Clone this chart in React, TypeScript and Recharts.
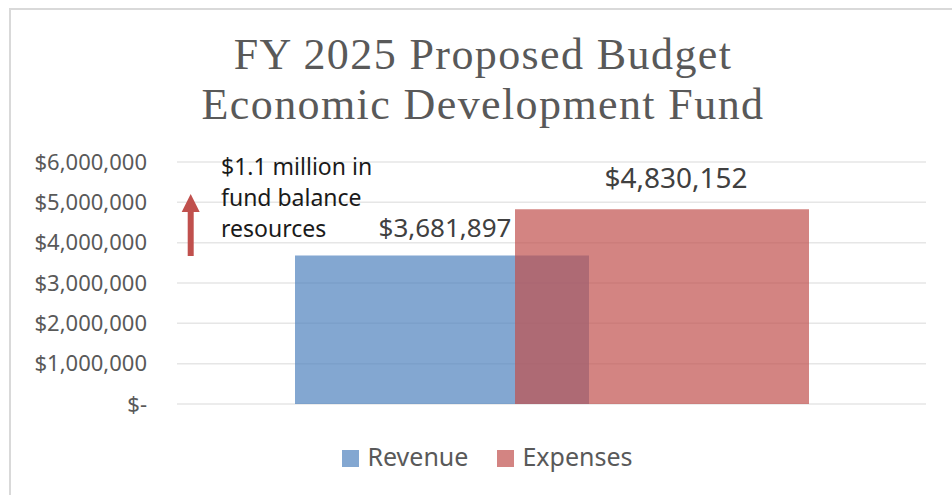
import React from "react";
import { BarChart, Bar, XAxis, YAxis, CartesianGrid, Legend, LabelList } from "recharts";

const categories = ["FY 2025"];
const revenueValues = [3681897];
const expenseValues = [4830152];
const yTicks = [0, 1000000, 2000000, 3000000, 4000000, 5000000, 6000000];
const titleLines = ["FY 2025 Proposed Budget", "Economic Development Fund"];
const noteLines = ["$1.1 million in", "fund balance", "resources"];
const seriesNames = ["Revenue", "Expenses"];

const data = categories.map((c, i) => ({
  name: c,
  Revenue: revenueValues[i],
  Expenses: expenseValues[i],
}));

const BLUE = "#4F81BD";
const RED = "#C0504D";
const SANS = "'Noto Sans', sans-serif";

const fmtMoney = (v: number) => (v === 0 ? "$-" : "$" + v.toLocaleString("en-US"));

const makeLabel = (dx: number, offset: number, size: number) => (props: any) => {
  const { x, y, width, value } = props;
  return (
    <text
      x={Number(x) + Number(width) / 2 + dx}
      y={Number(y) - offset}
      textAnchor="middle"
      fontFamily={SANS}
      fontSize={size}
      fill="#404040"
    >
      {fmtMoney(Number(value))}
    </text>
  );
};

const renderLegend = () => (
  <div
    style={{
      display: "flex",
      justifyContent: "center",
      paddingLeft: 23,
      fontFamily: SANS,
      fontSize: 25,
      lineHeight: "25px",
      color: "#595959",
    }}
  >
    {seriesNames.map((n, i) => (
      <div key={n} style={{ display: "flex", alignItems: "flex-start", marginLeft: i === 0 ? 0 : 29 }}>
        <div
          style={{
            width: 17,
            height: 17,
            marginTop: 6,
            marginRight: 8,
            background: i === 0 ? BLUE : RED,
            opacity: 0.7,
          }}
        />
        <span>{n}</span>
      </div>
    ))}
  </div>
);

export default function App() {
  return (
    <div style={{ position: "absolute", left: 0, top: 0, width: 952, height: 495, overflow: "hidden", background: "#fff" }}>
      <div
        style={{
          position: "absolute",
          left: 9,
          top: 8,
          width: 1000,
          height: 600,
          border: "2px solid #D9D9D9",
          boxSizing: "border-box",
        }}
      />
      <BarChart
        width={952}
        height={495}
        data={data}
        margin={{ top: 162, right: 26, bottom: 91, left: 0 }}
        barSize={294}
        barGap={-74}
      >
        <CartesianGrid vertical={false} stroke="#E6E6E6" strokeWidth={1.5} />
        <XAxis dataKey="name" hide />
        <YAxis
          width={177}
          domain={[0, 6000000]}
          ticks={yTicks}
          tickFormatter={fmtMoney}
          axisLine={false}
          tickLine={false}
          tickSize={0}
          tickMargin={30}
          interval={0}
          tick={{ fontFamily: SANS, fontSize: 22, fill: "#595959" }}
        />
        <Legend
          layout="horizontal"
          verticalAlign="middle"
          align="center"
          content={renderLegend}
          wrapperStyle={{ top: 444, left: 0, width: 952 }}
        />
        <Bar dataKey="Revenue" fill={BLUE} fillOpacity={0.7} isAnimationActive={false}>
          <LabelList dataKey="Revenue" content={makeLabel(3, 18, 26)} />
        </Bar>
        <Bar dataKey="Expenses" fill={RED} fillOpacity={0.7} isAnimationActive={false}>
          <LabelList dataKey="Expenses" content={makeLabel(14, 21, 28)} />
        </Bar>
      </BarChart>
      <div
        style={{
          position: "absolute",
          left: 0,
          top: 29.5,
          width: 952,
          paddingLeft: 14,
          boxSizing: "border-box",
          textAlign: "center",
          fontFamily: "'Liberation Serif', serif",
          fontSize: 44,
          lineHeight: "50px",
          letterSpacing: 1.4,
          color: "#595959",
          pointerEvents: "none",
        }}
      >
        {titleLines.map((t) => (
          <div key={t}>{t}</div>
        ))}
      </div>
      <div
        style={{
          position: "absolute",
          left: 221,
          top: 151.3,
          fontFamily: SANS,
          fontSize: 23,
          lineHeight: "31px",
          color: "#1A1A1A",
          whiteSpace: "nowrap",
          pointerEvents: "none",
        }}
      >
        {noteLines.map((t) => (
          <div key={t}>{t}</div>
        ))}
      </div>
      <svg style={{ position: "absolute", left: 0, top: 0, pointerEvents: "none" }} width={952} height={495}>
        <rect x={187.7} y={211} width={6} height={45} fill={RED} />
        <polygon points="190.7,194 199.7,212 181.7,212" fill={RED} />
      </svg>
    </div>
  );
}
